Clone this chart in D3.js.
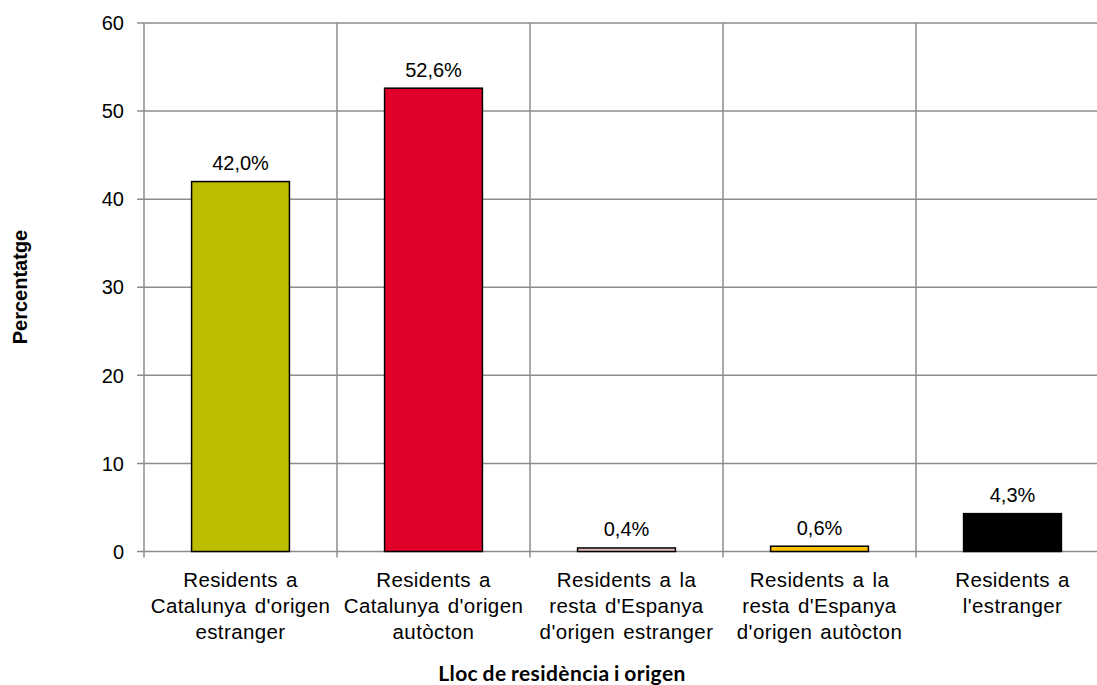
<!DOCTYPE html>
<html><head><meta charset="utf-8">
<script src="https://cdn.jsdelivr.net/npm/d3@7"></script>
<style>body{margin:0;background:#fff;}svg{display:block;font-family:"Liberation Sans",Arial,sans-serif;}</style>
</head><body>
<svg id="c" width="1097" height="685"></svg>
<script>
const categories = [
  ["Residents a","Catalunya d'origen","estranger"],
  ["Residents a","Catalunya d'origen","autòcton"],
  ["Residents a la","resta d'Espanya","d'origen estranger"],
  ["Residents a la","resta d'Espanya","d'origen autòcton"],
  ["Residents a","l'estranger"]
];
const values = [42.0, 52.6, 0.4, 0.6, 4.3];
const labels = ["42,0%","52,6%","0,4%","0,6%","4,3%"];
const colors = ["#BDBD00","#E1002A","#E6BFC0","#FFC000","#000000"];
const yTicks = [0,10,20,30,40,50,60];

(function(){
const svg = d3.select("#c");
const pLeft = 144, pRight = 1109, pTop = 23, pBottom = 551.5;
const x = d3.scaleBand().domain(d3.range(categories.length)).range([pLeft, pRight]).paddingInner(0).paddingOuter(0);
const y = d3.scaleLinear().domain([0,60]).range([pBottom, pTop]);
const grid = "#8c8c8c";

svg.append("g").selectAll("line").data(yTicks).join("line")
  .attr("x1", pLeft-7).attr("x2", pRight).attr("y1", d=>y(d)).attr("y2", d=>y(d))
  .attr("stroke", grid).attr("stroke-width", 1.5);
const bounds = d3.range(categories.length+1).map(i => pLeft + i*x.bandwidth());
svg.append("g").selectAll("line").data(bounds).join("line")
  .attr("x1", d=>d).attr("x2", d=>d).attr("y1", pTop).attr("y2", pBottom+6)
  .attr("stroke", grid).attr("stroke-width", 1.5);

svg.append("g").selectAll("text").data(yTicks).join("text")
  .attr("x", 124).attr("y", d=>y(d)).attr("dy","0.36em").attr("text-anchor","end")
  .attr("font-size", 20).attr("fill","#000").text(d=>d);

const bw = x.bandwidth()*0.507;
svg.append("g").selectAll("rect").data(values).join("rect")
  .attr("x", (d,i)=>x(i)+(x.bandwidth()-bw)/2).attr("width", bw)
  .attr("y", d=>y(d)).attr("height", d=>y(0)-y(d))
  .attr("fill", (d,i)=>colors[i]).attr("stroke","#000").attr("stroke-width",1.5);

svg.append("g").selectAll("text").data(values).join("text")
  .attr("x", (d,i)=>x(i)+x.bandwidth()/2).attr("y", d=>y(d)-11.5)
  .attr("text-anchor","middle").attr("font-size",20).attr("fill","#000")
  .text((d,i)=>labels[i]);

const cg = svg.append("g");
categories.forEach((lines,i)=>{
  const t = cg.append("text").attr("text-anchor","middle").attr("font-size",20.5).attr("fill","#000")
    .attr("word-spacing", 2).attr("letter-spacing", 0.4);
  lines.forEach((ln,j)=>{
    t.append("tspan").attr("x", x(i)+x.bandwidth()/2).attr("y", 587+j*25.8).text(ln);
  });
});

svg.append("text").attr("transform","translate(27,287) rotate(-90)").attr("text-anchor","middle")
  .attr("font-size",20).attr("font-weight","bold").text("Percentatge");
svg.append("text").attr("x",562).attr("y",681).attr("text-anchor","middle")
  .attr("font-family","Lato, 'Open Sans', sans-serif").attr("word-spacing",-1).attr("letter-spacing",0.4)
  .attr("font-size",21).attr("font-weight","bold").text("Lloc de residència i origen");
})();
</script>
</body></html>
